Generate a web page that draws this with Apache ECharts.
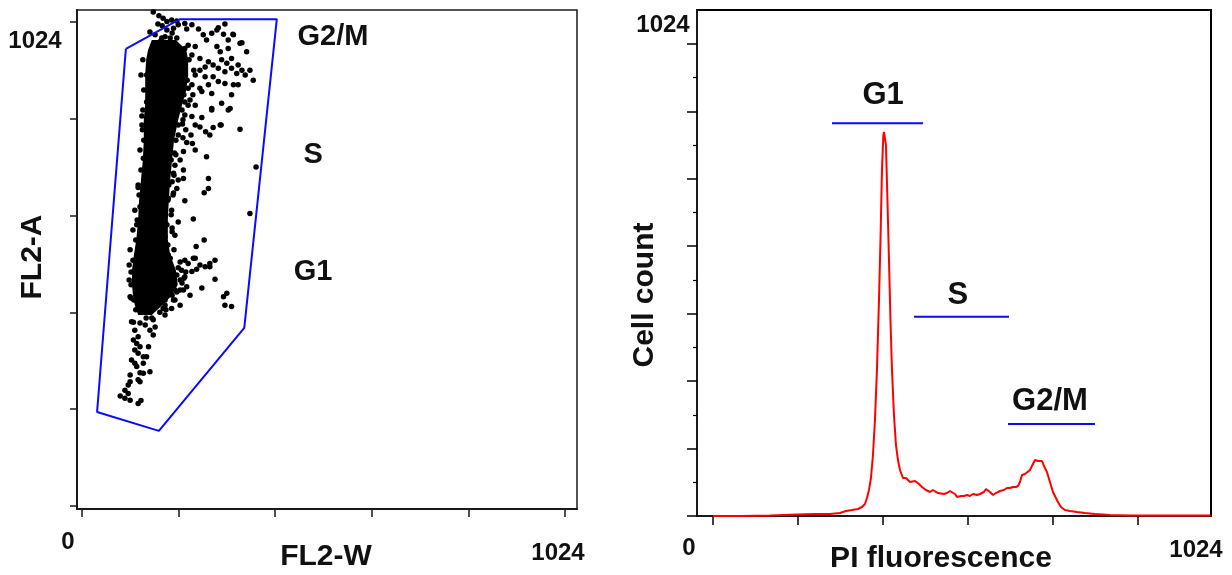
<!DOCTYPE html>
<html>
<head>
<meta charset="utf-8">
<script src="https://cdn.jsdelivr.net/npm/echarts@6/dist/echarts.min.js"></script>
<style>
html,body{margin:0;padding:0;background:#fff;}
#chart{width:1232px;height:575px;}
</style>
</head>
<body>
<div id="chart"></div>
<script>
// ---------- Left panel: FL2-W vs FL2-A dot plot ----------
const scatterTicks = [0, 204.8, 409.6, 614.4, 819.2, 1024];
// dense core of the event cloud (FL2-A level, left/right FL2-W edge)
const coreA      = [986, 965, 944, 912, 880, 848, 817, 774, 732, 690, 647, 605, 563, 531, 499, 468, 446, 425, 404];
const coreLeftW  = [148, 140, 136, 134, 134, 134, 131, 131, 129, 125, 121, 119, 115, 110, 106, 106, 108, 112, 119];
const coreRightW = [199, 221, 225, 225, 221, 212, 204, 195, 191, 187, 184, 182, 182, 187, 199, 203, 191, 170, 148];
// individual events outside / on the edge of the core
const eventW = [151,163,172,180,190,201,204,194,218,222,233,247,257,275,286,289,300,310,321,264,176,201,218,240,233,250,268,286,293,310,317,335,349,296,307,331,339,356,363,346,328,317,303,289,278,261,250,240,261,278,289,303,321,331,268,254,250,275,296,317,314,275,240,218,137,137,169,155,303,320,339,335,293,369,356,264,268,268,259,236,218,259,242,282,307,271,250,240,127,218,233,254,275,310,295,278,262,271,250,240,231,213,222,234,240,215,208,196,197,215,194,204,215,191,201,194,183,190,176,119,123,130,128,204,191,197,176,180,187,183,218,236,225,261,271,243,233,211,201,218,208,282,222,215,201,254,300,303,317,187,176,194,208,190,172,176,151,109,102,109,116,105,123,134,155,151,144,112,119,109,116,123,112,119,130,137,105,112,116,123,130,144,102,102,98,91,98,81,91,102,119,125,119,123,130,141,129,131,129,131,125,121,117,114,108,104,104,110,114,225,227,223,216,212,204,199,189,184,182,180,182,187,195,191,176,165,148,136,161,170,144,180,191,155,165,182,197,159,187,229,225,235,220,214,204,212,197,229,220,125,127,123,119,112,108,102,100,100,104,237,233,225,214,204,199,195,193,189,191,195,208,216,208,197,178];
const eventA = [1045,1037,1032,1025,1028,1026,1018,1011,1021,1009,1018,1009,997,1000,1007,1012,998,986,997,986,993,990,968,972,954,947,940,972,961,968,947,979,961,944,937,933,922,922,901,912,915,926,919,926,933,929,922,912,908,908,898,894,891,891,891,877,884,873,852,870,841,841,848,855,855,912,990,979,1020,998,980,797,806,717,619,739,693,672,663,607,646,563,549,520,450,506,510,524,825,827,824,822,838,838,806,801,792,785,802,806,785,808,769,767,753,750,732,747,721,711,704,690,693,686,672,662,651,626,619,674,633,736,796,601,580,573,570,552,524,531,520,524,513,506,513,501,496,499,489,485,478,480,464,457,453,461,443,425,422,450,436,436,425,418,418,404,394,389,443,471,595,390,387,383,379,362,372,372,358,351,344,337,330,323,316,316,309,302,295,282,281,284,277,263,256,245,238,233,228,224,217,223,267,263,302,337,944,880,838,774,711,658,605,563,520,495,468,436,415,975,944,901,870,838,806,774,732,679,647,595,552,510,478,446,425,410,398,398,1020,1016,1003,1007,1001,997,982,975,978,969,990,859,884,870,796,779,504,472,457,446,495,912,806,753,679,626,584,542,510,478,440,922,891,848,817,785,743,700,658,616,588,542,516,482,457,436,415];
// gating polygon
const gateW = [93, 193, 208, 413, 344, 163, 32, 93];
const gateA = [967, 1022, 1030, 1030, 377, 159, 199, 967];
// phase labels in the dot plot
const dotPhaseNames = ['G2/M', 'S', 'G1'];
const dotPhaseW = [532, 490, 490];
const dotPhaseA = [992, 743, 495];

// ---------- Right panel: PI fluorescence histogram ----------
const histTicksX = [0, 204.8, 409.6, 614.4, 819.2, 1024];
const histTicksY = [0, 136.5, 273, 409.5, 546, 682.5, 819, 955.5];
const histMinorY = [68.25, 204.75, 341.25, 477.75, 614.25, 750.75, 887.25];
const piFluor = [0,65.1,137.3,202.4,245.8,281.9,306.0,320.5,334.9,349.4,359.0,366.2,371.0,375.9,380.7,385.5,390.3,395.1,400.0,403.6,407.2,410.3,412.0,414.4,416.8,420.4,424.1,427.7,431.3,436.1,440.9,445.7,450.6,457.8,465.0,469.8,474.7,479.5,486.7,491.5,496.3,503.6,513.2,522.8,530.1,534.9,542.1,546.9,556.6,563.8,571.0,575.8,583.1,587.9,597.5,604.8,612.0,619.2,626.4,636.1,643.3,652.9,657.8,662.6,667.4,674.6,681.9,691.5,701.1,708.4,715.6,722.8,730.0,734.9,739.7,744.5,751.7,756.5,763.8,768.6,775.8,783.1,787.9,792.7,797.5,804.7,812.0,819.2,826.4,831.2,838.5,848.1,860.2,877.0,896.3,920.4,956.5,1004.7,1077.0,1199];
const cellCount = [0,0,1.0,3.0,4.0,4.0,6.1,10.1,12.1,14.2,18.2,24.3,36.4,52.6,76.9,123.4,194.3,295.5,437.1,558.5,700.2,767.0,777.1,775.1,750.8,639.5,518.1,396.6,295.5,204.4,143.7,113.3,93.1,76.9,76.9,76.9,68.8,66.8,70.8,72.9,64.8,58.7,52.6,48.6,52.6,52.6,46.5,44.5,44.5,46.5,50.6,52.6,44.5,38.5,40.5,40.5,42.5,40.5,44.5,42.5,44.5,48.6,54.6,56.7,48.6,42.5,46.5,50.6,52.6,56.7,56.7,58.7,58.7,60.7,68.8,83.0,85.0,87.0,93.1,101.2,113.3,111.3,113.3,111.3,101.2,89.0,68.8,48.6,36.4,28.3,18.2,12.1,10.1,8.1,6.1,4.0,2.0,1.0,1.0,1.0];
// phase markers (gates) on the histogram
const histPhaseNames = ['G1', 'S', 'G2/M'];
const histPhaseStart = [286.7, 484.3, 710.8];
const histPhaseEnd   = [506.0, 713.2, 920.4];
const histPhaseLevel = [795, 403, 186];
const histLabelX = [410, 590, 812];
const histLabelY = [852, 447, 231];

// ---------- text ----------
const axisTitles = {leftX: 'FL2-W', leftY: 'FL2-A', rightX: 'PI fluorescence', rightY: 'Cell count'};
const cornerLabels = {min: '0', max: '1024'};

const FONT = '"Liberation Sans", Arial, sans-serif';
const INK = '#111';

function tickAxis(extra) {
  return Object.assign({
    type: 'value',
    position: 'left',
    splitLine: {show: false},
    axisLabel: {show: false},
    axisLine: {show: true, onZero: false, lineStyle: {color: '#1a1a1a', width: 2}},
    axisTick: {show: true, inside: false, lineStyle: {color: '#1a1a1a', width: 1.5}}
  }, extra);
}

const events = eventW.map((w, i) => [w, eventA[i]]);
const gate = gateW.map((w, i) => [w, gateA[i]]);
const hist = piFluor.map((x, i) => [x, cellCount[i]]);

function labelSeries(xi, yi, names, xs, ys, size) {
  return {
    type: 'custom', xAxisIndex: xi, yAxisIndex: yi, z: 6, clip: false,
    data: names.map((n, i) => [xs[i], ys[i], i]),
    renderItem: function (params, api) {
      const p = api.coord([api.value(0), api.value(1)]);
      return {
        type: 'text', x: p[0], y: p[1],
        style: {text: names[api.value(2)], font: 'bold ' + size + 'px ' + FONT, fill: INK,
                align: 'center', verticalAlign: 'middle', textAlign: 'center', textVerticalAlign: 'middle'}
      };
    }
  };
}

const series = [
  {
    type: 'custom', xAxisIndex: 0, yAxisIndex: 0, z: 2,
    data: [[0, 0]],
    renderItem: function (params, api) {
      const pts = [];
      for (let i = 0; i < coreA.length; i++) pts.push(api.coord([coreLeftW[i], coreA[i]]));
      for (let i = coreA.length - 1; i >= 0; i--) pts.push(api.coord([coreRightW[i], coreA[i]]));
      return {type: 'polygon', shape: {points: pts}, style: {fill: '#000'}};
    }
  },
  {
    type: 'scatter', xAxisIndex: 0, yAxisIndex: 0, z: 3,
    symbolSize: 5.5, itemStyle: {color: '#000', opacity: 1},
    data: events
  },
  {
    type: 'line', xAxisIndex: 0, yAxisIndex: 0, z: 4,
    symbol: 'none', lineStyle: {color: '#0a0aff', width: 2},
    data: gate
  },
  labelSeries(0, 0, dotPhaseNames, dotPhaseW, dotPhaseA, 29),
  {
    type: 'line', xAxisIndex: 1, yAxisIndex: 1, z: 4,
    symbol: 'none', lineStyle: {color: '#ff0000', width: 2},
    data: hist
  },
  labelSeries(1, 1, histPhaseNames, histLabelX, histLabelY, 31)
];
histPhaseNames.forEach((n, i) => {
  series.push({
    type: 'line', xAxisIndex: 1, yAxisIndex: 1, z: 4,
    symbol: 'none', lineStyle: {color: '#0a0aff', width: 2},
    data: [[histPhaseStart[i], histPhaseLevel[i]], [histPhaseEnd[i], histPhaseLevel[i]]]
  });
});

function txt(s, x, y, size, rot) {
  return {
    type: 'text', x: x, y: y, rotation: rot || 0, z: 10,
    style: {text: s, font: 'bold ' + size + 'px ' + FONT, fill: INK,
            textAlign: 'center', textVerticalAlign: 'middle', align: 'center', verticalAlign: 'middle'}
  };
}

const option = {
  animation: false,
  backgroundColor: '#fff',
  grid: [
    {left: 77, top: 10, width: 500, height: 499, show: true, borderColor: '#1a1a1a', borderWidth: 1.5, backgroundColor: 'transparent'},
    {left: 697, top: 10, width: 514, height: 506, show: true, borderColor: '#000', borderWidth: 2, backgroundColor: 'transparent'}
  ],
  xAxis: [
    tickAxis({gridIndex: 0, position: 'bottom', min: -10.6, max: 1049.4, axisTick: {show: true, length: 8, customValues: scatterTicks, lineStyle: {color: '#1a1a1a', width: 1.5}}}),
    tickAxis({gridIndex: 1, position: 'bottom', min: -38.5, max: 1200, axisTick: {show: true, length: 9, customValues: histTicksX, lineStyle: {color: '#000', width: 1.5}}})
  ],
  yAxis: [
    tickAxis({gridIndex: 0, min: -6.3, max: 1049.4, axisTick: {show: true, length: 7, customValues: scatterTicks, lineStyle: {color: '#1a1a1a', width: 1.5}}}),
    tickAxis({gridIndex: 1, min: 0, max: 1024, axisTick: {show: true, length: 10, customValues: histTicksY, lineStyle: {color: '#000', width: 1.5}}}),
    tickAxis({gridIndex: 1, min: 0, max: 1024, offset: 0, axisLine: {show: false, onZero: false}, axisTick: {show: true, length: 4, customValues: histMinorY, lineStyle: {color: '#000', width: 1.2}}})
  ],
  series: series,
  graphic: [
    txt(cornerLabels.max, 35, 41, 24),
    txt(cornerLabels.min, 68, 542, 24),
    txt(cornerLabels.max, 558, 553, 24),
    txt(axisTitles.leftY, 33, 257, 30, Math.PI / 2),
    txt(axisTitles.leftX, 326, 557, 30),
    txt(cornerLabels.max, 663, 25, 24),
    txt(cornerLabels.min, 689, 548, 24),
    txt(cornerLabels.max, 1196, 550, 24),
    txt(axisTitles.rightY, 645, 295, 30, Math.PI / 2),
    txt(axisTitles.rightX, 941, 559, 30)
  ]
};

const chart = echarts.init(document.getElementById('chart'), null, {renderer: 'canvas'});
chart.setOption(option);
</script>
</body>
</html>
